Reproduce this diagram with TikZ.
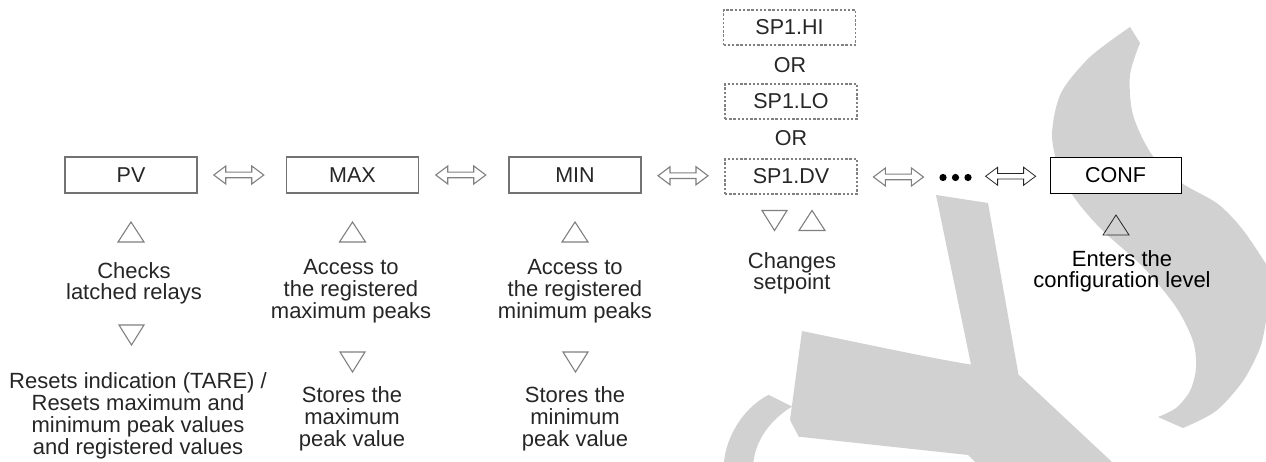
\documentclass[tikz,border=0pt]{standalone}
\usepackage{fontspec}
\setmainfont{Liberation Sans}
\usetikzlibrary{calc}

\tikzset{
  desc/.style={inner sep=0pt, align=center, anchor=north,
    font=\fontsize{22}{21.8}\selectfont, text=black!85},
  keybox/.style={draw=black!55, line width=1.2pt, fill=white,
    minimum width=132pt, minimum height=36pt, inner sep=0pt,
    font=\fontsize{21.5}{21.5}\selectfont, text=black!85},
  spbox/.style={keybox, draw=black!50, line width=1.1pt,
    dash pattern=on 2.4pt off 1.8pt, minimum width=132pt, minimum height=35pt},
  confbox/.style={keybox, draw=black, line width=0.9pt, text=black, minimum width=131pt},
  orlbl/.style={inner sep=0pt, font=\fontsize{21.5}{21.5}\selectfont, text=black!85},
  wm/.style={fill=black!18},
  grayline/.style={draw=black!50, line width=1.1pt, line join=miter},
  darkline/.style={draw=black!85, line width=0.8pt, line join=miter},
  dblarrow/.pic={\path[pic actions] (-25,0) -- (-13,-9) -- (-13,-2.8) -- (13,-2.8)
      -- (13,-9) -- (25,0) -- (13,9) -- (13,2.8) -- (-13,2.8) -- (-13,9) -- cycle;},
  upkey/.pic={\path[pic actions] (-13,10) -- (13,10) -- (0,-10) -- cycle;},
  downkey/.pic={\path[pic actions] (-12.5,-10) -- (12.5,-10) -- (0,10) -- cycle;},
}

\begin{document}
\begin{tikzpicture}[x=1pt,y=-1pt]
\useasboundingbox (0,0) rectangle (1266,462);
\fill[white] (0,0) rectangle (1266,462);

% background logo shapes
\fill[wm] (1130,27) -- (1140,43)
  -- plot[smooth] coordinates {(1140,43) (1130,75) (1133,115) (1152,155) (1180,182)
    (1218,204) (1243,230) (1266,264)}
  -- (1266,321)
  -- plot[smooth] coordinates {(1266,321) (1260,348) (1243,381) (1216,411) (1183,428)}
  -- (1158,417)
  -- plot[smooth] coordinates {(1158,417) (1176,408) (1190,391) (1196,368) (1193,341)
    (1176,307) (1143,267) (1102,230) (1076,200) (1060,172) (1052,135) (1061,93)
    (1090,57) (1130,27)}
  -- cycle;
\fill[wm] (936,195) -- (988,203) -- (1018.5,374.6) -- (1112,462) -- (975,462)
  -- (968,455) -- (798.7,436.7) -- (790,420) -- (802,331)
  .. controls (870,345) and (930,358) .. (971,364.6) -- cycle;
\fill[wm] (724,462) .. controls (726,440) and (740,410) .. (768.5,394.8)
  -- (792,406.5) .. controls (770,420) and (756,440) .. (753.4,462) -- cycle;

% menu screens
\node[keybox] (pv)  at (131,175)   {PV};
\node[keybox] (max) at (352.5,175) {MAX};
\node[keybox] (min) at (575,175)   {MIN};
\node[spbox]  (sphi) at (789.5,27.5) {SP1.HI};
\node[orlbl]  (or1)  at (790,65)     {OR};
\node[spbox]  (splo) at (791,101.5)  {SP1.LO};
\node[orlbl]  (or2)  at (791,138)    {OR};
\node[spbox]  (spdv) at (791,176.5)  {SP1.DV};
\node[inner sep=0pt, minimum width=32pt, minimum height=10pt] (more) at (955.5,177.5) {};
\fill[black] ($(more.center)+(-12.5,0)$) circle (3.6pt)
             (more.center) circle (3.6pt)
             ($(more.center)+(12.5,0)$) circle (3.6pt);
\node[confbox] (conf) at (1115.5,175) {CONF};

% navigation between screens
\pic[grayline] at ($(pv.east)!0.5!(max.west)+(-3,0)$) {dblarrow};
\pic[grayline] at ($(max.east)!0.5!(min.west)+(-3,0)$) {dblarrow};
\pic[grayline] at ($(min.east)!0.5!(spdv.west)$) {dblarrow};
\pic[grayline] at ($(spdv.east)!0.5!(more.west)$) {dblarrow};
\pic[darkline] at ($(more.east)!0.5!(conf.west)$) {dblarrow};

% key symbols
\pic[grayline] at (131,232)   {upkey};
\pic[grayline] at (131.5,335) {downkey};
\pic[grayline] at (352.5,232) {upkey};
\pic[grayline] at (352.5,362) {downkey};
\pic[grayline] at (575,232)   {upkey};
\pic[grayline] at (575.5,362) {downkey};
\pic[grayline] at (774.5,220.5) {downkey};
\pic[grayline] at (812,220.5)   {upkey};
\pic[darkline] at (1116,225)    {upkey};

% key functions
\node[desc] (pvup)  at (134,262)   {Checks\\latched relays};
\node[desc] (pvdn)  at (138,372.5) {Resets indication (TARE) /\\Resets maximum and\\minimum peak values\\and registered values};
\node[desc] (maxup) at (351,259.5) {Access to\\the registered\\maximum peaks};
\node[desc] (maxdn) at (352,386.5) {Stores the\\maximum\\peak value};
\node[desc] (minup) at (575,259.5) {Access to\\the registered\\minimum peaks};
\node[desc] (mindn) at (575,386.5) {Stores the\\minimum\\peak value};
\node[desc] (spup)  at (792,252)   {Changes\\setpoint};
\node[desc, text=black] (confup) at (1122,250) {Enters the\\configuration level};
\end{tikzpicture}
\end{document}
